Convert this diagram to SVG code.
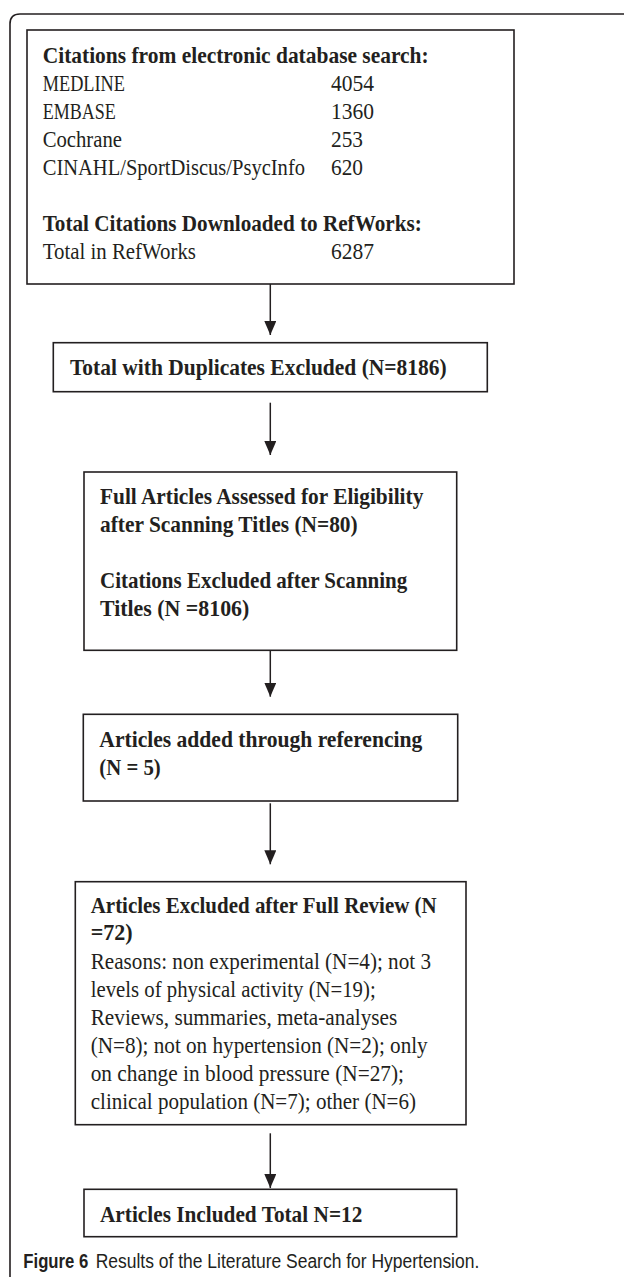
<svg xmlns="http://www.w3.org/2000/svg" width="624" height="1277" viewBox="0 0 624 1277">
<style>
.box{fill:#fff;stroke:#231f20;stroke-width:1.6}
.frame{fill:none;stroke:#231f20;stroke-width:1.6}
.conn{stroke:#231f20;stroke-width:1.5;fill:none;marker-end:url(#ah)}
.b{font-family:"Liberation Serif",serif;font-weight:bold;font-size:24px;fill:#231f20}
.r{font-family:"Liberation Serif",serif;font-size:24px;fill:#231f20}
.cap{font-family:"Liberation Sans",sans-serif;font-size:19.5px;fill:#231f20}
</style>
<defs>
<marker id="ah" markerUnits="userSpaceOnUse" markerWidth="14" markerHeight="12" refX="14" refY="6" orient="auto">
<path d="M0,0 L14,6 L0,12 z" fill="#231f20"/>
</marker>
</defs>
<rect width="624" height="1277" fill="#fff"/>
<path class="frame" d="M10,1277 V24 Q10,14 20,14 H624"/>
<g id="connectors">
<line class="conn" x1="270.3" y1="284" x2="270.3" y2="335"/>
<line class="conn" x1="270.3" y1="402.7" x2="270.3" y2="455"/>
<line class="conn" x1="270.3" y1="650.3" x2="270.3" y2="696.7"/>
<line class="conn" x1="270.3" y1="803.3" x2="270.3" y2="864.3"/>
<line class="conn" x1="270.3" y1="1133.3" x2="270.3" y2="1188"/>
</g>
<g id="node1">
<rect class="box" x="27" y="30" width="487" height="254"/>
<text class="b" x="42.7" y="62.7" textLength="386" lengthAdjust="spacingAndGlyphs">Citations from electronic database search:</text>
<text class="r" x="42.7" y="90.7" textLength="82.3" lengthAdjust="spacingAndGlyphs">MEDLINE</text>
<text class="r" x="331" y="90.7" textLength="43" lengthAdjust="spacingAndGlyphs">4054</text>
<text class="r" x="42.7" y="118.7" textLength="73" lengthAdjust="spacingAndGlyphs">EMBASE</text>
<text class="r" x="331" y="118.7" textLength="43" lengthAdjust="spacingAndGlyphs">1360</text>
<text class="r" x="42.7" y="146.7" textLength="79.3" lengthAdjust="spacingAndGlyphs">Cochrane</text>
<text class="r" x="331" y="146.7" textLength="32" lengthAdjust="spacingAndGlyphs">253</text>
<text class="r" x="42.7" y="174.7" font-size="21.5" textLength="262.3" lengthAdjust="spacingAndGlyphs">CINAHL/SportDiscus/PsycInfo</text>
<text class="r" x="331" y="174.7" textLength="32" lengthAdjust="spacingAndGlyphs">620</text>
<text class="b" x="42.7" y="230.7" textLength="379" lengthAdjust="spacingAndGlyphs">Total Citations Downloaded to RefWorks:</text>
<text class="r" x="42.7" y="258.7" textLength="153.3" lengthAdjust="spacingAndGlyphs">Total in RefWorks</text>
<text class="r" x="331" y="258.7" textLength="43" lengthAdjust="spacingAndGlyphs">6287</text>
</g>
<g id="node2">
<rect class="box" x="53.3" y="342.7" width="434" height="49"/>
<text class="b" x="70" y="375" textLength="376.7" lengthAdjust="spacingAndGlyphs">Total with Duplicates Excluded (N=8186)</text>
</g>
<g id="node3">
<rect class="box" x="84" y="472" width="372.7" height="178.3"/>
<text class="b" x="100" y="504" textLength="323.3" lengthAdjust="spacingAndGlyphs">Full Articles Assessed for Eligibility</text>
<text class="b" x="100" y="532" textLength="257.7" lengthAdjust="spacingAndGlyphs">after Scanning Titles (N=80)</text>
<text class="b" x="100" y="588" textLength="307.3" lengthAdjust="spacingAndGlyphs">Citations Excluded after Scanning</text>
<text class="b" x="100" y="616" textLength="149.3" lengthAdjust="spacingAndGlyphs">Titles (N =8106)</text>
</g>
<g id="node4">
<rect class="box" x="83.3" y="714.3" width="374.4" height="86.7"/>
<text class="b" x="99.3" y="746.7" textLength="323" lengthAdjust="spacingAndGlyphs">Articles added through referencing</text>
<text class="b" x="99.3" y="775" textLength="61.4" lengthAdjust="spacingAndGlyphs">(N = 5)</text>
</g>
<g id="node5">
<rect class="box" x="75.3" y="881.7" width="390.7" height="243"/>
<text class="b" x="90.7" y="912.7" textLength="346" lengthAdjust="spacingAndGlyphs">Articles Excluded after Full Review (N</text>
<text class="b" x="90.7" y="940" textLength="42" lengthAdjust="spacingAndGlyphs">=72)</text>
<text class="r" x="90.7" y="968.7" textLength="340.3" lengthAdjust="spacingAndGlyphs">Reasons: non experimental (N=4); not 3</text>
<text class="r" x="90.7" y="996.7" textLength="285" lengthAdjust="spacingAndGlyphs">levels of physical activity (N=19);</text>
<text class="r" x="90.7" y="1025.3" textLength="306.6" lengthAdjust="spacingAndGlyphs">Reviews, summaries, meta-analyses</text>
<text class="r" x="90.7" y="1053.3" textLength="337" lengthAdjust="spacingAndGlyphs">(N=8); not on hypertension (N=2); only</text>
<text class="r" x="90.7" y="1081.3" textLength="313.3" lengthAdjust="spacingAndGlyphs">on change in blood pressure (N=27);</text>
<text class="r" x="90.7" y="1109.3" textLength="325.3" lengthAdjust="spacingAndGlyphs">clinical population (N=7); other (N=6)</text>
</g>
<g id="node6">
<rect class="box" x="84" y="1189.3" width="372.7" height="47.4"/>
<text class="b" x="100" y="1221.7" textLength="262.3" lengthAdjust="spacingAndGlyphs">Articles Included Total N=12</text>
</g>
<g id="caption">
<text class="cap" x="23.3" y="1268.3" font-weight="bold" textLength="65" lengthAdjust="spacingAndGlyphs">Figure 6</text>
<text class="cap" x="95.7" y="1268.3" textLength="383.6" lengthAdjust="spacingAndGlyphs">Results of the Literature Search for Hypertension.</text>
</g>
</svg>
